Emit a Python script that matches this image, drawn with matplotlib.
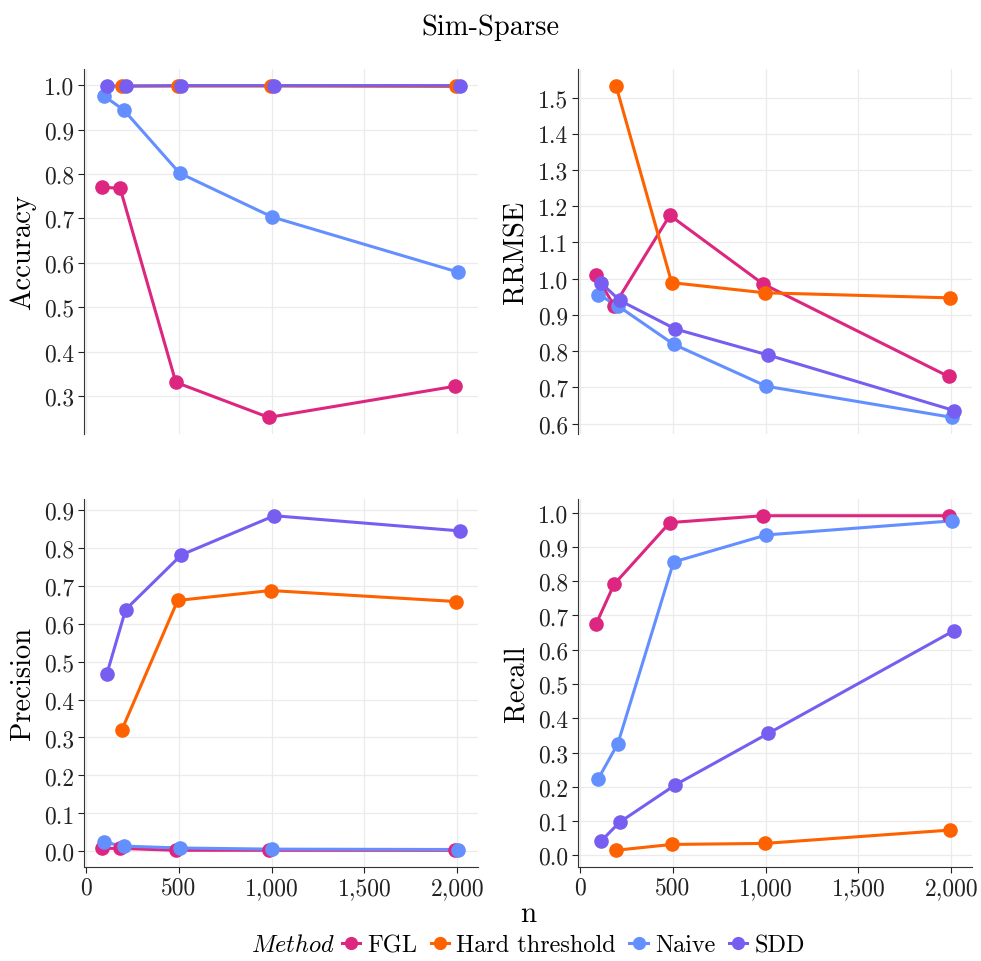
import matplotlib
matplotlib.use("Agg")
import matplotlib.pyplot as plt
from matplotlib.lines import Line2D
from matplotlib.ticker import FuncFormatter

plt.rcParams['font.family'] = 'serif'
plt.rcParams['font.serif'] = ['cmr10', 'DejaVu Serif']
plt.rcParams['mathtext.fontset'] = 'cm'
plt.rcParams['axes.formatter.use_mathtext'] = True

# ---- data ----
n_vals = [100, 200, 500, 1000, 2000]
methods = ['FGL', 'Hard threshold', 'Naive', 'SDD']
colors = ['#DC267F', '#FE6100', '#648FFF', '#785EF0']

# None = no value for that n
accuracy = {
    'FGL': [0.770, 0.768, 0.331, 0.252, 0.322],
    'Hard threshold': [None, 0.998, 0.998, 0.998, 0.997],
    'Naive': [0.975, 0.944, 0.802, 0.703, 0.579],
    'SDD': [0.998, 0.998, 0.999, 0.999, 0.999],
}
rrmse = {
    'FGL': [1.011, 0.925, 1.175, 0.986, 0.730],
    'Hard threshold': [None, 1.533, 0.989, 0.961, 0.947],
    'Naive': [0.956, 0.925, 0.819, 0.703, 0.617],
    'SDD': [0.989, 0.940, 0.861, 0.789, 0.636],
}
precision = {
    'FGL': [0.008, 0.008, 0.003, 0.003, 0.003],
    'Hard threshold': [None, 0.321, 0.661, 0.687, 0.658],
    'Naive': [0.024, 0.014, 0.009, 0.006, 0.005],
    'SDD': [0.467, 0.637, 0.781, 0.884, 0.844],
}
recall = {
    'FGL': [0.674, 0.791, 0.971, 0.991, 0.991],
    'Hard threshold': [None, 0.015, 0.032, 0.035, 0.074],
    'Naive': [0.224, 0.326, 0.856, 0.935, 0.976],
    'SDD': [0.041, 0.097, 0.206, 0.356, 0.656],
}

panels = [
    ('Accuracy', accuracy, [0.3, 0.4, 0.5, 0.6, 0.7, 0.8, 0.9, 1.0]),
    ('RRMSE', rrmse, [0.6, 0.7, 0.8, 0.9, 1.0, 1.1, 1.2, 1.3, 1.4, 1.5]),
    ('Precision', precision, [0.0, 0.1, 0.2, 0.3, 0.4, 0.5, 0.6, 0.7, 0.8, 0.9]),
    ('Recall', recall, [0.0, 0.1, 0.2, 0.3, 0.4, 0.5, 0.6, 0.7, 0.8, 0.9, 1.0]),
]

dodge = 40  # dodge width in n units, like position_dodge


def dodged_x(data):
    # offset each method around n, only among methods present at that n
    xs = {m: [] for m in methods}
    for i, n in enumerate(n_vals):
        present = [m for m in methods if data[m][i] is not None]
        k = len(present)
        for j, m in enumerate(present):
            xs[m].append(n + (j - (k - 1) / 2) * dodge / k)
    return xs


fig = plt.figure(figsize=(9.81, 9.62), dpi=100)
W, H = 981, 962
boxes = [(84, 70, 478, 435), (578, 70, 972, 435),
         (84, 500, 478, 868), (578, 500, 972, 868)]

for idx, (label, data, yticks) in enumerate(panels):
    x0, y0, x1, y1 = boxes[idx]
    ax = fig.add_axes([x0 / W, 1 - y1 / H, (x1 - x0) / W, (y1 - y0) / H])
    xs = dodged_x(data)
    for m, c in zip(methods, colors):
        ys = [v for v in data[m] if v is not None]
        ax.plot(xs[m], ys, color=c, lw=2.2, zorder=3)
    for m, c in zip(methods, colors):
        ys = [v for v in data[m] if v is not None]
        ax.plot(xs[m], ys, 'o', color=c, ms=9.5, zorder=4)

    allv = [v for m in methods for v in data[m] if v is not None]
    lo, hi = min(allv), max(allv)
    pad = (hi - lo) * 0.05
    ax.set_ylim(lo - pad, hi + pad)
    ax.set_xlim(87 - 0.05 * 1928, 2015 + 0.05 * 1928)
    ax.set_yticks(yticks)
    ax.set_yticklabels([f'{t:.1f}' for t in yticks])
    ax.set_xticks([0, 500, 1000, 1500, 2000])
    ax.xaxis.set_major_formatter(FuncFormatter(lambda v, p: f'{v:,.0f}'))
    ax.grid(True, color='#ebebeb', lw=0.9, zorder=0)
    ax.set_axisbelow(True)
    for s in ['top', 'right']:
        ax.spines[s].set_visible(False)
    ax.spines['left'].set_color('#333333')
    ax.spines['bottom'].set_color('#333333')
    ax.tick_params(labelsize=17, colors='#222222', length=4, width=0.8, pad=3)
    if idx < 2:
        ax.spines['bottom'].set_visible(False)
        ax.tick_params(axis='x', bottom=False, labelbottom=False)
    ax.set_ylabel(label, fontsize=20.5, labelpad=6)

fig.text(0.5, 1 - 28 / H, 'Sim-Sparse', ha='center', va='center', fontsize=20.5)
fig.text(528 / W, 1 - 915 / H, 'n', ha='center', va='center', fontsize=21)

fig.text(335 / W, 1 - 946 / H, r'$\mathit{Method}$', ha='right', va='center', fontsize=17.5)
handles = [Line2D([], [], color=c, lw=2.2, marker='o', ms=8.5) for c in colors]
fig.legend(handles, methods, loc='center left', bbox_to_anchor=(342 / W, 1 - 946 / H),
           ncol=4, frameon=False, fontsize=17.5, handlelength=0.75, handletextpad=0.3,
           columnspacing=0.55, borderaxespad=0, borderpad=0)

fig.savefig('out.png', dpi=100)
